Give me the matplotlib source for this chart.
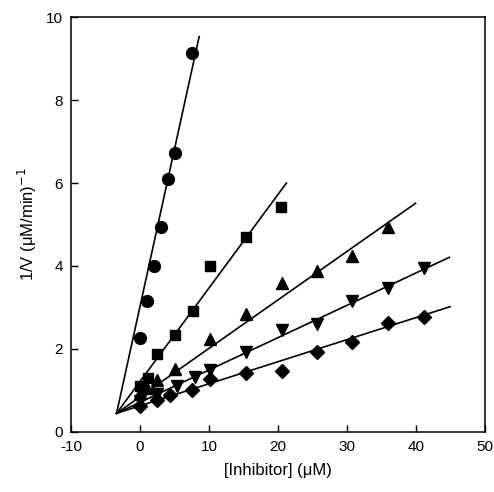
import numpy as np
import matplotlib
matplotlib.use("Agg")
import matplotlib.pyplot as plt

plt.rcParams["font.family"] = ["Liberation Sans", "DejaVu Sans"]
plt.rcParams["axes.unicode_minus"] = False

# data
circle_x = [0, 1, 2, 3, 4, 5, 7.5]
circle_y = [2.27, 3.16, 4.01, 4.95, 6.10, 6.73, 9.14]

square_x = [0, 1.1, 2.5, 5, 7.7, 10.2, 15.3, 20.4]
square_y = [1.10, 1.30, 1.88, 2.34, 2.92, 4.00, 4.70, 5.43]

tri_x = [0, 1, 2.5, 5, 10.2, 15.4, 20.5, 25.6, 30.7, 35.9]
tri_y = [0.95, 1.05, 1.25, 1.51, 2.23, 2.84, 3.58, 3.88, 4.24, 4.95]

inv_x = [0, 2.5, 5.3, 7.9, 10.2, 15.4, 20.5, 25.6, 30.7, 35.9, 41.05]
inv_y = [0.75, 0.92, 1.11, 1.32, 1.49, 1.93, 2.46, 2.60, 3.16, 3.46, 3.94]

dia_x = [0, 2.5, 4.3, 7.5, 10.2, 15.4, 20.5, 25.6, 30.7, 35.9, 41.05]
dia_y = [0.63, 0.76, 0.89, 1.02, 1.28, 1.41, 1.48, 1.93, 2.18, 2.63, 2.76]

# fitted lines: common intersection point, slopes and right end of each line
fit_x0 = -3.4
fit_y0 = 0.45
fit_slopes = [0.759, 0.2256, 0.1169, 0.078, 0.0532]
fit_xend = [8.56, 21.2, 39.9, 44.8, 44.9]

series = [
    (circle_x, circle_y, "o", 8.5),
    (square_x, square_y, "s", 7.5),
    (tri_x, tri_y, "^", 9),
    (inv_x, inv_y, "v", 9),
    (dia_x, dia_y, "D", 7),
]

fig = plt.figure(figsize=(4.94, 4.92), dpi=100)
ax = fig.add_axes([0.1437, 0.122, 0.8387, 0.8434])

for slope, xend in zip(fit_slopes, fit_xend):
    xs = np.array([fit_x0, xend])
    ax.plot(xs, fit_y0 + slope * (xs - fit_x0), color="black", lw=1.2)

for xs, ys, marker, size in series:
    ax.plot(xs, ys, linestyle="none", marker=marker, markersize=size,
            color="black")

ax.set_xlim(-10, 50)
ax.set_ylim(0, 10)
ax.set_xticks(range(-10, 51, 10))
ax.set_yticks(range(0, 11, 2))
ax.tick_params(direction="in", length=5, width=1, labelsize=11,
               top=False, right=False, pad=6)
for sp in ax.spines.values():
    sp.set_linewidth(1.1)

ax.set_xlabel("[Inhibitor] (\u03bcM)", fontsize=12, labelpad=6)
ax.set_ylabel("1/V (\u03bcM/min)$^{-1}$", fontsize=12, labelpad=5)

fig.savefig("out.png", dpi=100)
